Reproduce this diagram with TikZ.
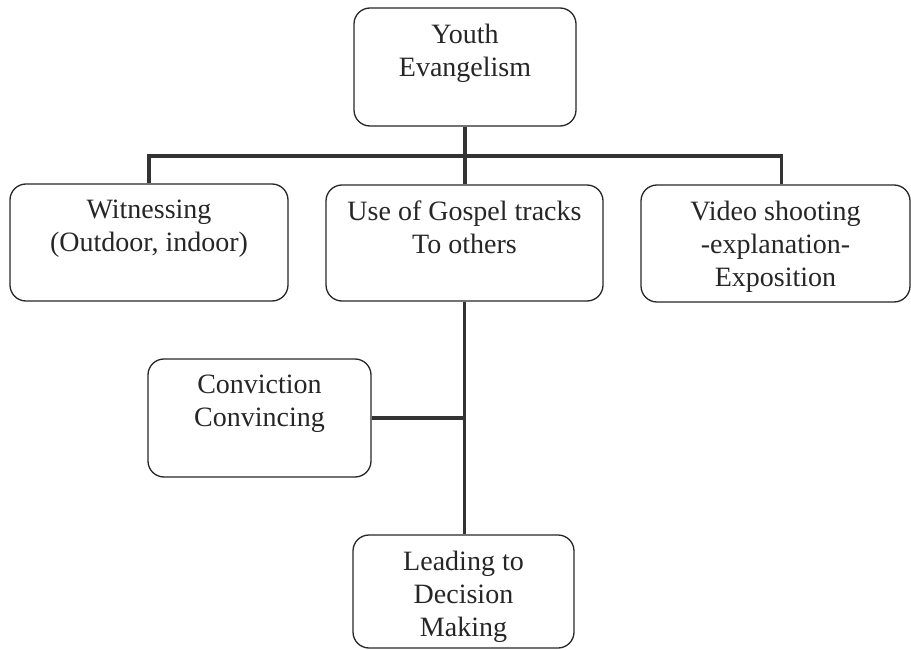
\documentclass[tikz,border=0pt]{standalone}
\usepackage{fontspec}
\setmainfont{Liberation Serif}
\tikzset{
  box/.style={draw=black!85, line width=1.3pt, rounded corners=16pt},
  lbl/.style={anchor=north, yshift=-16.5pt, inner sep=0pt, align=center,
    font=\fontsize{28}{33}\selectfont, text=black!85},
  link/.style={draw=black!80, line width=3.6pt}
}
\begin{document}
\begin{tikzpicture}[x=1pt,y=-1pt]
\useasboundingbox (0,0) rectangle (911,650);
\node[box, minimum width=222pt, minimum height=118pt, label={[lbl]north:{Youth\\Evangelism}}] (youth) at (465,67) {};
\node[box, minimum width=278pt, minimum height=117pt, label={[lbl]north:{Witnessing\\(Outdoor, indoor)}}] (witness) at (149,242.5) {};
\node[box, minimum width=277pt, minimum height=116pt, label={[lbl]north:{Use of Gospel tracks\\To others}}] (gospel) at (464.5,243) {};
\node[box, minimum width=269pt, minimum height=117pt, label={[lbl]north:{Video shooting\\-explanation-\\Exposition}}] (video) at (775.5,243.5) {};
\node[box, minimum width=223pt, minimum height=118pt, label={[lbl]north:{Conviction\\Convincing}}] (conv) at (259.5,418) {};
\node[box, minimum width=221pt, minimum height=113pt, label={[lbl]north:{Leading to\\Decision\\Making}}] (lead) at (463.5,591.5) {};
\coordinate (bar) at (0,156);
\coordinate (drop) at ([xshift=6pt]video.north);
\draw[link] (youth.south) -- (youth.south |- gospel.north);
\draw[link] (witness.north) |- (bar -| drop) -- (drop);
\draw[link] (gospel.south) -- (gospel.south |- lead.north);
\draw[link] (conv.east) -- (conv.east -| gospel.south);
\end{tikzpicture}
\end{document}
